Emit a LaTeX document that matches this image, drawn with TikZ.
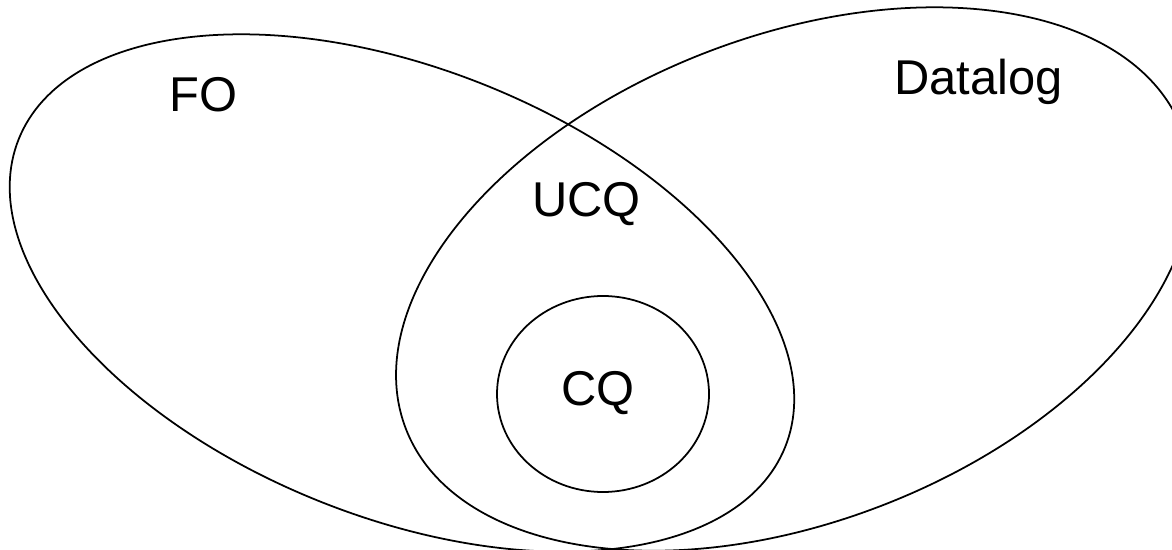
\documentclass[tikz,border=0pt]{standalone}
\usepackage{fontspec}
\setmainfont{Liberation Sans}
\usepackage{tikz}
\usetikzlibrary{positioning}

\tikzset{
	setline/.style={line width=1pt, black},
	setlabel/.style={inner sep=0pt, anchor=base west, font=\fontsize{27.8pt}{33pt}\selectfont}
}

\begin{document}
\begin{tikzpicture}[x=0.2mm, y=0.2mm]
		\useasboundingbox (0,0) rectangle (1172,549);
		% centres of the sets
		\coordinate (FOc) at (402,256);
		\coordinate (DLc) at (794,270);
		\coordinate (CQc) at (603,155);
		
		\draw[setline, rotate around={-21.9:(FOc)}] (FOc) ellipse (413 and 224);
		\draw[setline, rotate around={21.1:(DLc)}] (DLc) ellipse (416 and 243);
		\draw[setline] (CQc) ellipse (106 and 98);
		
		\node[setlabel] (fo) at (169,437) {FO};
		\node[setlabel] (datalog) at (894,454) {Datalog};
		\node[setlabel] (ucq) at (532,332) {UCQ};
		\node[setlabel] (cq) at (561,143) {CQ};
	\end{tikzpicture}
\end{document}
